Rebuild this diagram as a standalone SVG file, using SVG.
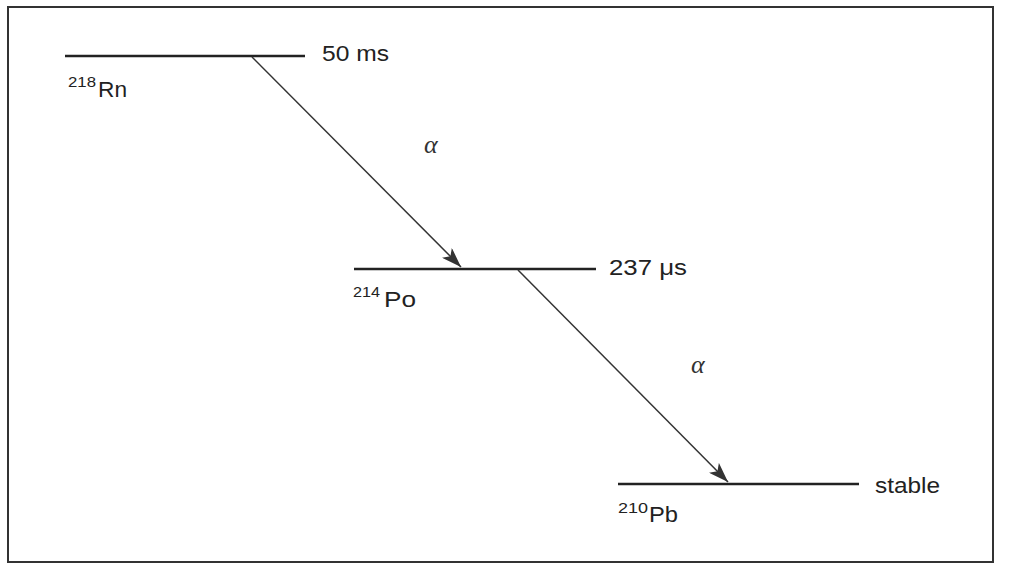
<svg xmlns="http://www.w3.org/2000/svg" width="1015" height="582" viewBox="0 0 1015 582">
<style>
.lvl{stroke:#222;stroke-width:2.6;fill:none}
.arr{stroke:#333;stroke-width:1.5;fill:none}
.t{font-family:"Liberation Sans",Arial,sans-serif;font-size:22px;fill:#222}
.sup{font-family:"Liberation Sans",Arial,sans-serif;font-size:14px;fill:#222}
.a{font-family:"Liberation Serif","Times New Roman",serif;font-style:italic;font-size:26px;fill:#333}
</style>
<defs>
<marker id="ah" viewBox="0 0 20 14" refX="20" refY="7" markerWidth="20" markerHeight="14" markerUnits="userSpaceOnUse" orient="auto">
<path d="M0,0 L20,7 L0,14 L5,7 Z" fill="#333"/>
</marker>
</defs>
<rect width="1015" height="582" fill="#fff"/>
<rect x="8" y="7" width="985" height="555" fill="none" stroke="#333" stroke-width="2"/>
<g id="rn218">
<line class="lvl" x1="65" y1="56" x2="305" y2="56"/>
<text class="t" x="322" y="61" textLength="67" lengthAdjust="spacingAndGlyphs">50 ms</text>
<text class="sup" x="68" y="87" textLength="28" lengthAdjust="spacingAndGlyphs">218</text>
<text class="t" x="98" y="97" textLength="29" lengthAdjust="spacingAndGlyphs">Rn</text>
</g>
<g id="po214">
<line class="lvl" x1="354" y1="269" x2="596" y2="269"/>
<text class="t" x="609" y="275" textLength="78" lengthAdjust="spacingAndGlyphs">237 μs</text>
<text class="sup" x="353" y="297" textLength="27" lengthAdjust="spacingAndGlyphs">214</text>
<text class="t" x="384" y="307" textLength="32" lengthAdjust="spacingAndGlyphs">Po</text>
</g>
<g id="pb210">
<line class="lvl" x1="618" y1="484" x2="859" y2="484"/>
<text class="t" x="875" y="493" textLength="65" lengthAdjust="spacingAndGlyphs">stable</text>
<text class="sup" x="618" y="513" textLength="30" lengthAdjust="spacingAndGlyphs">210</text>
<text class="t" x="649" y="522" textLength="29" lengthAdjust="spacingAndGlyphs">Pb</text>
</g>
<g id="connectors">
<line class="arr" x1="252" y1="57" x2="461" y2="267" marker-end="url(#ah)"/>
<line class="arr" x1="518" y1="270" x2="728" y2="482" marker-end="url(#ah)"/>
<text class="a" x="424" y="153">α</text>
<text class="a" x="691" y="373">α</text>
</g>
</svg>
